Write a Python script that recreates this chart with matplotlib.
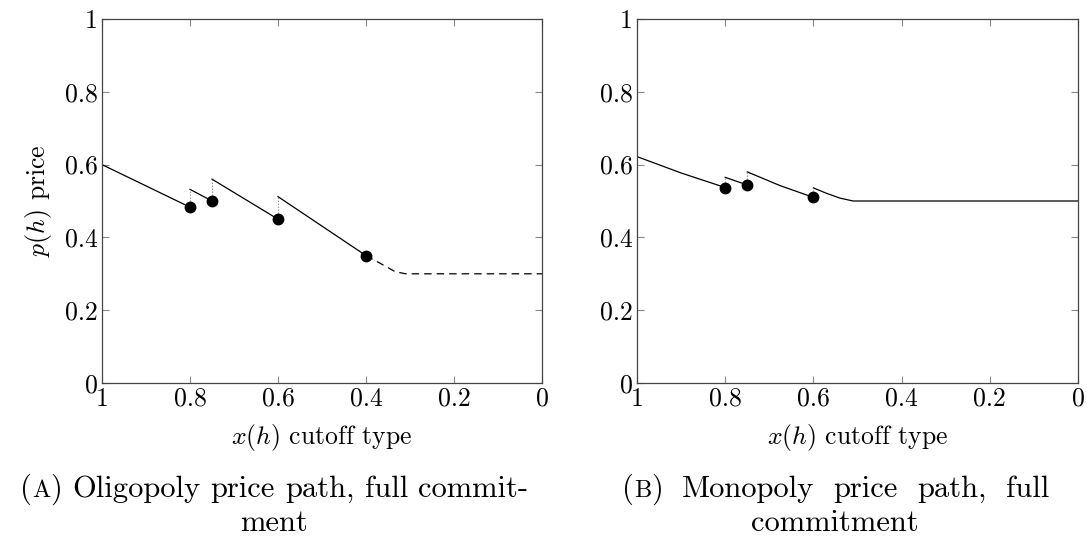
import matplotlib
matplotlib.use("Agg")
import matplotlib.pyplot as plt

plt.rcParams['font.family'] = ['cmr10', 'DejaVu Serif']
plt.rcParams['mathtext.fontset'] = 'cm'
plt.rcParams['axes.formatter.use_mathtext'] = True
plt.rcParams['axes.unicode_minus'] = False

# --- (A) oligopoly price path ---
olig_seg_x = [[1.0, 0.8], [0.8, 0.75], [0.75, 0.6], [0.6, 0.4]]
olig_seg_y = [[0.600, 0.483], [0.532, 0.500], [0.560, 0.450], [0.512, 0.350]]
olig_tail_x = [0.4, 0.368, 0.334, 0.31, 0.0]
olig_tail_y = [0.350, 0.329, 0.306, 0.300, 0.300]
olig_dot_x = [0.8, 0.75, 0.6, 0.4]
olig_dot_y = [0.483, 0.500, 0.450, 0.350]
olig_jump_x = [0.8, 0.75, 0.6]
olig_jump_lo = [0.483, 0.500, 0.450]
olig_jump_hi = [0.532, 0.560, 0.512]

# --- (B) monopoly price path ---
mono_seg_x = [[1.0, 0.9, 0.8], [0.8, 0.75], [0.75, 0.675, 0.6],
              [0.6, 0.57, 0.54, 0.51, 0.0]]
mono_seg_y = [[0.622, 0.577, 0.537], [0.565, 0.544], [0.580, 0.542, 0.510],
              [0.536, 0.521, 0.508, 0.500, 0.500]]
mono_dot_x = [0.8, 0.75, 0.6]
mono_dot_y = [0.537, 0.544, 0.510]
mono_jump_x = [0.8, 0.75, 0.6]
mono_jump_lo = [0.537, 0.544, 0.510]
mono_jump_hi = [0.565, 0.580, 0.536]

xticks = [1, 0.8, 0.6, 0.4, 0.2, 0]
xticklabels = ['1', '0.8', '0.6', '0.4', '0.2', '0']
yticks = [0, 0.2, 0.4, 0.6, 0.8, 1]
yticklabels = ['0', '0.2', '0.4', '0.6', '0.8', '1']

W, H = 1087, 538
FS = 18.5      # tick / axis label size
CAP = 22       # caption size

fig = plt.figure(figsize=(W / 100, H / 100), dpi=100)
ax1 = fig.add_axes([102 / W, 1 - 383 / H, 440 / W, 364 / H])
ax2 = fig.add_axes([637 / W, 1 - 383 / H, 441 / W, 364 / H])


def style(ax):
    ax.set_xlim(1, 0)
    ax.set_ylim(0, 1)
    ax.set_xticks(xticks)
    ax.set_xticklabels(xticklabels)
    ax.set_yticks(yticks)
    ax.set_yticklabels(yticklabels)
    ax.tick_params(direction='in', length=5, width=0.8, color='#888888',
                   top=True, right=True, labelsize=FS, pad=3)
    for s in ax.spines.values():
        s.set_linewidth(0.9)
        s.set_color('#444444')
    ax.set_xlabel(r'$x(h)$ cutoff type', fontsize=FS, labelpad=8)


style(ax1)
for xs, ys in zip(olig_seg_x, olig_seg_y):
    ax1.plot(xs, ys, color='black', lw=0.9)
ax1.plot(olig_tail_x, olig_tail_y, color='black', lw=0.9, ls=(0, (6, 4)))
ax1.vlines(olig_jump_x, olig_jump_lo, olig_jump_hi, colors='#777777',
           linestyles=':', lw=0.8)
ax1.plot(olig_dot_x, olig_dot_y, 'o', color='black', ms=7.5, zorder=5)
ax1.set_ylabel(r'$p(h)$ price', fontsize=FS, labelpad=8)

style(ax2)
for xs, ys in zip(mono_seg_x, mono_seg_y):
    ax2.plot(xs, ys, color='black', lw=0.9)
ax2.vlines(mono_jump_x, mono_jump_lo, mono_jump_hi, colors='#777777',
           linestyles=':', lw=0.8)
ax2.plot(mono_dot_x, mono_dot_y, 'o', color='black', ms=7.5, zorder=5)

# --- captions: small-caps letter + justified first line like LaTeX ---
renderer = fig.canvas.get_renderer()


def width(s, size):
    t = fig.text(0, 0, s, fontsize=size)
    w = t.get_window_extent(renderer).width
    t.remove()
    return w


def word_width(runs):
    return sum(width(s, sz) for s, sz in runs)


def put_line(words, y, center=None, left=None, right=None):
    space = width('a a', CAP) - width('aa', CAP)
    widths = [word_width(w) for w in words]
    if left is not None and right is not None:
        gap = (right - left - sum(widths)) / (len(words) - 1)
        x = left
    else:
        gap = space
        x = center - (sum(widths) + gap * (len(words) - 1)) / 2
    for w, ww in zip(words, widths):
        xx = x
        for s, sz in w:
            fig.text(xx / W, 1 - y / H, s, fontsize=sz, va='baseline')
            xx += width(s, sz)
        x += ww + gap


SC = CAP * 0.8
put_line([[('(', CAP), ('A', SC), (')', CAP)], [('Oligopoly', CAP)],
          [('price', CAP)], [('path,', CAP)], [('full', CAP)],
          [('commit-', CAP)]], 497, center=274)
put_line([[('ment', CAP)]], 531, center=274)
put_line([[('(', CAP), ('B', SC), (')', CAP)], [('Monopoly', CAP)],
          [('price', CAP)], [('path,', CAP)], [('full', CAP)]],
         497, left=622, right=1049)
put_line([[('commitment', CAP)]], 531, center=835)

fig.savefig('out.png', dpi=100)
